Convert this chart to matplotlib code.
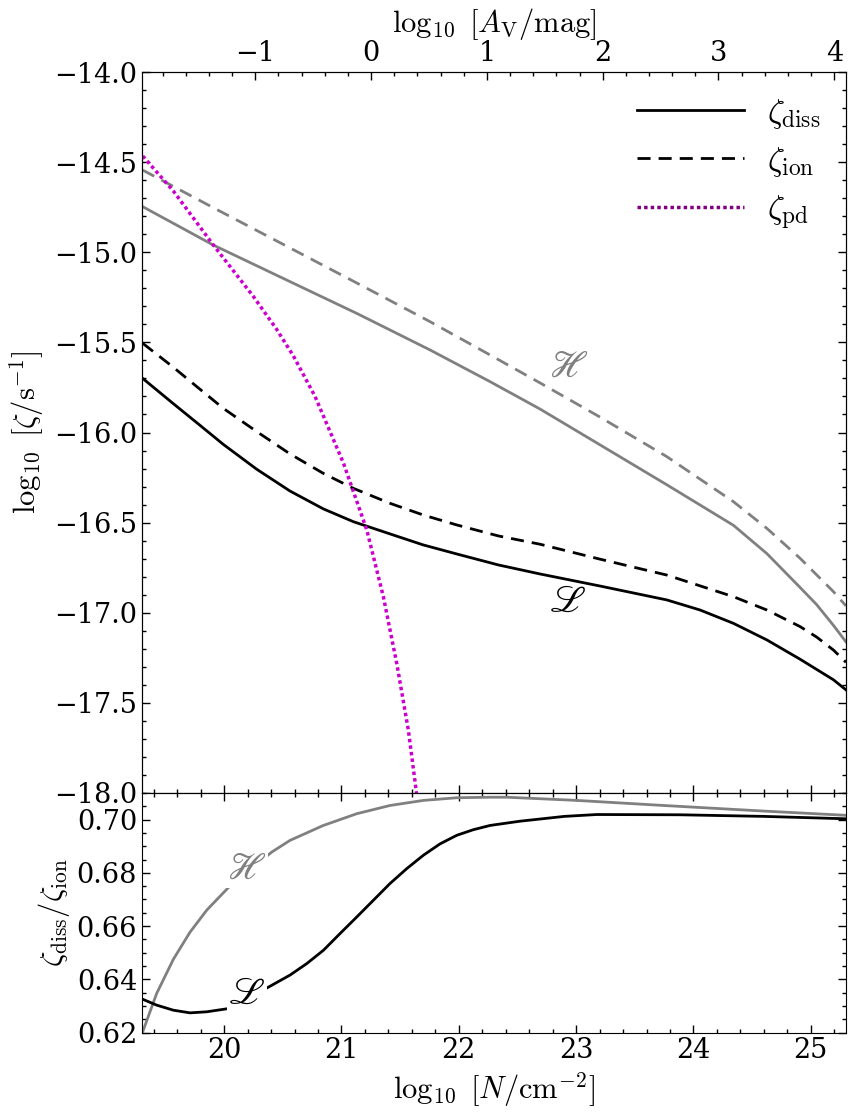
import numpy as np
import matplotlib
matplotlib.use('Agg')
import matplotlib.pyplot as plt
from matplotlib.lines import Line2D
from matplotlib.ticker import MultipleLocator

plt.rcParams['font.family'] = 'DejaVu Serif'
plt.rcParams['mathtext.fontset'] = 'cm'

# ---- data ----
# column density log10 N [cm^-2]  vs  log10 zeta [s^-1]
# model L (black)
N_diss_L = [19.306, 19.567, 19.794, 19.993, 20.278, 20.562, 20.846, 21.102, 21.443, 21.698, 21.983,
            22.338, 22.693, 23.205, 23.773, 24.057, 24.341, 24.626, 24.909, 25.193, 25.30]
zeta_diss_L = [-15.700, -15.840, -15.960, -16.066, -16.204, -16.325, -16.424, -16.495, -16.569, -16.624, -16.674,
               -16.735, -16.785, -16.852, -16.929, -16.985, -17.059, -17.151, -17.258, -17.372, -17.428]

N_ion_L = [19.306, 19.567, 19.794, 19.993, 20.278, 20.562, 20.846, 21.102, 21.414, 21.698, 21.983,
           22.338, 22.693, 23.205, 23.773, 24.341, 24.626, 24.909, 25.05, 25.193, 25.30]
zeta_ion_L = [-15.505, -15.638, -15.760, -15.866, -15.995, -16.119, -16.227, -16.310, -16.393, -16.458, -16.513,
              -16.574, -16.620, -16.703, -16.791, -16.911, -16.985, -17.077, -17.135, -17.207, -17.275]

# model H (grey)
N_diss_H = [19.306, 19.908, 20.533, 21.13, 21.755, 22.267, 22.693, 23.205, 23.773, 24.341, 24.626,
            24.909, 25.05, 25.193, 25.30]
zeta_diss_H = [-14.747, -14.960, -15.154, -15.339, -15.542, -15.718, -15.870, -16.069, -16.290, -16.515, -16.672,
               -16.860, -16.955, -17.070, -17.162]

N_ion_H = [19.306, 19.90, 20.50, 21.10, 21.755, 22.267, 22.693, 23.205, 23.773, 24.341, 24.626,
           24.909, 25.193, 25.30]
zeta_ion_H = [-14.544, -14.750, -14.955, -15.160, -15.385, -15.570, -15.725, -15.915, -16.134, -16.384, -16.532,
              -16.698, -16.883, -16.962]

# photodissociation
N_pd = [19.306, 19.567, 19.908, 20.249, 20.448, 20.59, 20.775, 21.017, 21.216, 21.357, 21.471,
        21.570, 21.636, 21.648]
zeta_pd = [-14.466, -14.660, -14.960, -15.245, -15.428, -15.575, -15.800, -16.170, -16.541, -16.911, -17.281,
           -17.651, -17.983, -18.05]

# ratio zeta_diss / zeta_ion
N_ratio_H = [19.306, 19.425, 19.567, 19.709, 19.852, 20.05, 20.406, 20.562, 20.846, 21.13, 21.414,
             21.698, 21.983, 22.267, 22.409, 23.006, 23.744, 24.597, 25.30]
ratio_H = [0.6203, 0.6347, 0.6475, 0.6577, 0.6660, 0.6751, 0.6878, 0.6922, 0.6978, 0.7022, 0.7053,
           0.7072, 0.7082, 0.7084, 0.7084, 0.7072, 0.7053, 0.7032, 0.7016]

N_ratio_L = [19.306, 19.425, 19.567, 19.709, 19.852, 20.05, 20.391, 20.562, 20.704, 20.846, 20.988,
             21.13, 21.272, 21.414, 21.557, 21.698, 21.841, 21.983, 22.124, 22.267, 22.523, 22.9,
             23.176, 23.887, 24.597, 25.30]
ratio_L = [0.6325, 0.6303, 0.6284, 0.6274, 0.6278, 0.6291, 0.6374, 0.6416, 0.6459, 0.6509, 0.6572,
           0.6634, 0.6697, 0.6760, 0.6816, 0.6866, 0.6909, 0.6941, 0.6962, 0.6978, 0.6994, 0.7012,
           0.7019, 0.7018, 0.7012, 0.7003]

# top axis: log10 A_V over the same span as N
av_lim = (-1.978, 4.101)

fig = plt.figure(figsize=(8.56, 11.17), dpi=100)
ax1 = fig.add_axes([0.1659, 0.2901, 0.8224, 0.6454])
ax2 = fig.add_axes([0.1659, 0.0756, 0.8224, 0.2145])

lw = 2.0
dash = (0, (4.7, 2.9))
dots = (0, (1, 0.9))
gray = '#808080'
lab_fs = 22

ax1.plot(N_diss_H, zeta_diss_H, color=gray, lw=lw)
ax1.plot(N_ion_H, zeta_ion_H, color=gray, lw=lw, ls=dash)
ax1.plot(N_diss_L, zeta_diss_L, color='k', lw=lw)
ax1.plot(N_ion_L, zeta_ion_L, color='k', lw=lw, ls=dash)
ax1.plot(N_pd, zeta_pd, color='#cc00cc', lw=2.5, ls=dots)

ax1.text(22.934, -15.635, r'$\mathscr{H}$', color=gray, fontsize=27, math_fontfamily='stix',
         ha='center', va='center')
ax1.text(22.926, -16.939, r'$\mathscr{L}$', color='k', fontsize=27, math_fontfamily='stix',
         ha='center', va='center')

handles = [Line2D([], [], color='k', lw=lw),
           Line2D([], [], color='k', lw=lw, ls=dash),
           Line2D([], [], color='purple', lw=2.5, ls=dots)]
labels = [r'$\zeta_\mathrm{diss}$', r'$\zeta_\mathrm{ion}$', r'$\zeta_\mathrm{pd}$']
ax1.legend(handles, labels, loc='upper right', frameon=False, fontsize=24, handlelength=3.2,
           handletextpad=0.7, labelspacing=0.42, borderaxespad=0.35)

ax1.set_xlim(19.3, 25.3)
ax1.set_ylim(-18, -14)
ax1.set_ylabel(r'$\log_{10}\ [\zeta/\mathrm{s}^{-1}]$', fontsize=lab_fs)
ax1.yaxis.set_major_locator(MultipleLocator(0.5))
ax1.yaxis.set_minor_locator(MultipleLocator(0.1))
ax1.xaxis.set_major_locator(MultipleLocator(1))
ax1.xaxis.set_minor_locator(MultipleLocator(0.2))
ax1.tick_params(labelbottom=False)

top = ax1.twiny()
top.set_xlim(*av_lim)
top.xaxis.set_major_locator(MultipleLocator(1))
top.xaxis.set_minor_locator(MultipleLocator(0.2))
top.set_xlabel(r'$\log_{10}\ [A_\mathrm{V}/\mathrm{mag}]$', fontsize=lab_fs, labelpad=6)

ax2.plot(N_ratio_H, ratio_H, color=gray, lw=lw)
ax2.plot(N_ratio_L, ratio_L, color='k', lw=lw)
ax2.text(20.193, 0.6816, r'$\mathscr{H}$', color=gray, fontsize=27, math_fontfamily='stix',
         ha='center', va='center', bbox=dict(fc='white', ec='none', pad=1.0))
ax2.text(20.193, 0.6347, r'$\mathscr{L}$', color='k', fontsize=27, math_fontfamily='stix',
         ha='center', va='center', bbox=dict(fc='white', ec='none', pad=1.0))
ax2.set_xlim(19.3, 25.3)
ax2.set_ylim(0.62, 0.71)
ax2.xaxis.set_major_locator(MultipleLocator(1))
ax2.xaxis.set_minor_locator(MultipleLocator(0.2))
ax2.yaxis.set_major_locator(MultipleLocator(0.02))
ax2.yaxis.set_minor_locator(MultipleLocator(0.005))
ax2.set_xlabel(r'$\log_{10}\ [N/\mathrm{cm}^{-2}]$', fontsize=lab_fs)
ax2.set_ylabel(r'$\zeta_\mathrm{diss}/\zeta_\mathrm{ion}$', fontsize=lab_fs)

for ax in (ax1, ax2, top):
    ax.tick_params(which='both', direction='in', labelsize=19.5)
    ax.tick_params(which='major', length=6, width=1)
    ax.tick_params(which='minor', length=3, width=1)
ax1.tick_params(which='both', right=True)
ax2.tick_params(which='both', top=True, right=True)

ax1.yaxis.set_label_coords(-0.136, 0.5)
ax2.yaxis.set_label_coords(-0.099, 0.5)

fig.savefig('out.png', dpi=100)
